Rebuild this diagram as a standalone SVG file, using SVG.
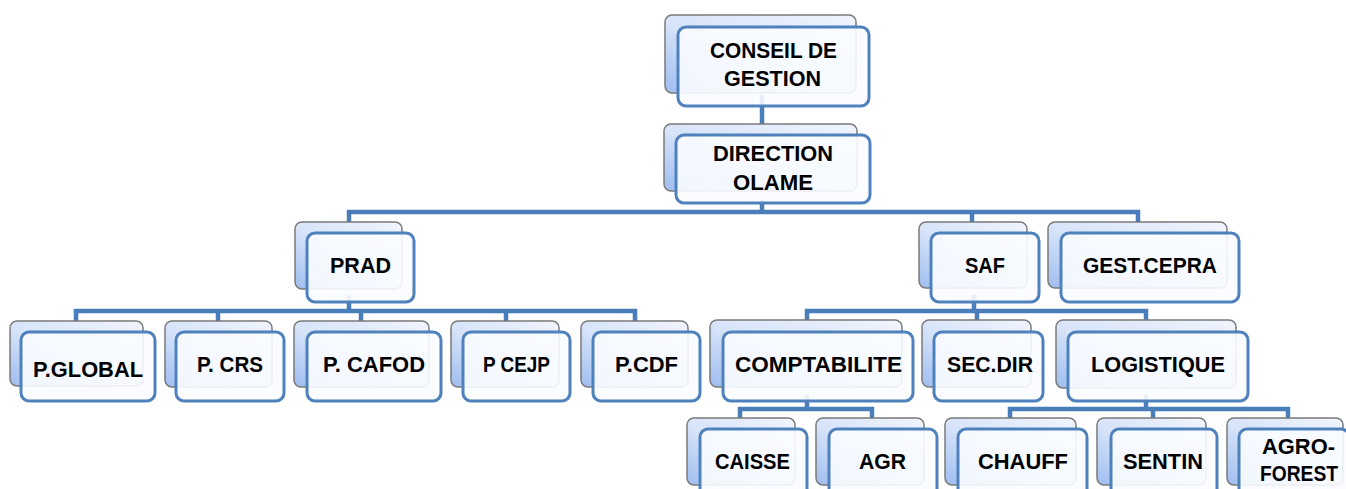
<svg xmlns="http://www.w3.org/2000/svg" width="1346" height="489" viewBox="0 0 1346 489">
<defs>
<linearGradient id="bg" x1="1" y1="0" x2="0" y2="1">
<stop offset="0" stop-color="#f1f5fd"/>
<stop offset="0.55" stop-color="#d6e3f9"/>
<stop offset="1" stop-color="#9ebdf0"/>
</linearGradient>
<style>
.back{fill:url(#bg);stroke:#7a7a7a;stroke-width:1.5}
.front{fill:#fafcff;fill-opacity:0.9;stroke:#4f81bd;stroke-width:3}
.c{fill:none;stroke:#4a7ebb;stroke-width:4.5;stroke-linejoin:miter}
.t{font-family:"Liberation Sans",Arial,sans-serif;font-weight:bold;font-size:22px;fill:#000;text-anchor:middle}
</style>
</defs>
<rect width="1346" height="489" fill="#ffffff"/>
<g id="connectors">
<path class="c" d="M762,95 V135"/>
<path class="c" d="M762,200 V212 M349,222 V212 H1138 V222 M972,212 V222"/>
<path class="c" d="M349,295 V311 M76,321 V311 H635 V321 M218,311 V321 M361,311 V321 M506,311 V321"/>
<path class="c" d="M974,295 V311 M807,320 V311 H1146 V320 M977,311 V320"/>
<path class="c" d="M807,395 V409 M740,418 V409 H872 V418"/>
<path class="c" d="M1146,395 V409 M1010,418 V409 H1288 V418 M1153,409 V418"/>
</g>
<g id="conseil">
<rect class="back" x="665" y="15" width="191" height="78" rx="7"/>
<rect class="front" x="678" y="27" width="191" height="79" rx="8"/>
<text class="t" x="773.5" y="58" textLength="127" lengthAdjust="spacingAndGlyphs">CONSEIL DE</text>
<text class="t" x="772.5" y="86" textLength="97" lengthAdjust="spacingAndGlyphs">GESTION</text>
</g>
<g id="direction">
<rect class="back" x="664" y="124" width="193" height="67" rx="7"/>
<rect class="front" x="676" y="135" width="194" height="68" rx="8"/>
<text class="t" x="773" y="161" textLength="120" lengthAdjust="spacingAndGlyphs">DIRECTION</text>
<text class="t" x="773" y="190" textLength="80" lengthAdjust="spacingAndGlyphs">OLAME</text>
</g>
<g id="prad">
<rect class="back" x="295" y="222" width="107" height="67" rx="7"/>
<rect class="front" x="307" y="233" width="107" height="69" rx="8"/>
<text class="t" x="360.5" y="273" textLength="61" lengthAdjust="spacingAndGlyphs">PRAD</text>
</g>
<g id="saf">
<rect class="back" x="919" y="222" width="108" height="66" rx="7"/>
<rect class="front" x="931" y="233" width="108" height="69" rx="8"/>
<text class="t" x="985" y="273" textLength="40" lengthAdjust="spacingAndGlyphs">SAF</text>
</g>
<g id="gestcepra">
<rect class="back" x="1048" y="222" width="179" height="66" rx="7"/>
<rect class="front" x="1061" y="233" width="178" height="69" rx="8"/>
<text class="t" x="1150" y="273" textLength="134" lengthAdjust="spacingAndGlyphs">GEST.CEPRA</text>
</g>
<g id="pglobal">
<rect class="back" x="10" y="321" width="133" height="65" rx="7"/>
<rect class="front" x="21" y="332" width="134" height="69" rx="8"/>
<text class="t" x="88" y="377" textLength="110" lengthAdjust="spacingAndGlyphs">P.GLOBAL</text>
</g>
<g id="pcrs">
<rect class="back" x="165" y="321" width="107" height="66" rx="7"/>
<rect class="front" x="176" y="332" width="108" height="69" rx="8"/>
<text class="t" x="230" y="372" textLength="66" lengthAdjust="spacingAndGlyphs">P. CRS</text>
</g>
<g id="pcafod">
<rect class="back" x="294" y="321" width="135" height="66" rx="7"/>
<rect class="front" x="307" y="332" width="134" height="69" rx="8"/>
<text class="t" x="374" y="372" textLength="102" lengthAdjust="spacingAndGlyphs">P. CAFOD</text>
</g>
<g id="pcejp">
<rect class="back" x="451" y="321" width="108" height="66" rx="7"/>
<rect class="front" x="463" y="332" width="107" height="69" rx="8"/>
<text class="t" x="516.5" y="372" textLength="67" lengthAdjust="spacingAndGlyphs">P CEJP</text>
</g>
<g id="pcdf">
<rect class="back" x="581" y="321" width="107" height="66" rx="7"/>
<rect class="front" x="593" y="332" width="107" height="69" rx="8"/>
<text class="t" x="646.5" y="372" textLength="63" lengthAdjust="spacingAndGlyphs">P.CDF</text>
</g>
<g id="comptabilite">
<rect class="back" x="710" y="320" width="192" height="67" rx="7"/>
<rect class="front" x="723" y="332" width="190" height="69" rx="8"/>
<text class="t" x="818.5" y="372" textLength="167" lengthAdjust="spacingAndGlyphs">COMPTABILITE</text>
</g>
<g id="secdir">
<rect class="back" x="922" y="320" width="109" height="67" rx="7"/>
<rect class="front" x="934" y="332" width="109" height="69" rx="8"/>
<text class="t" x="990" y="372" textLength="86" lengthAdjust="spacingAndGlyphs">SEC.DIR</text>
</g>
<g id="logistique">
<rect class="back" x="1056" y="320" width="180" height="68" rx="7"/>
<rect class="front" x="1068" y="332" width="180" height="69" rx="8"/>
<text class="t" x="1158" y="372" textLength="134" lengthAdjust="spacingAndGlyphs">LOGISTIQUE</text>
</g>
<g id="caisse">
<rect class="back" x="687" y="418" width="108" height="67" rx="7"/>
<rect class="front" x="700" y="429" width="107" height="69" rx="8"/>
<text class="t" x="752.5" y="469" textLength="75" lengthAdjust="spacingAndGlyphs">CAISSE</text>
</g>
<g id="agr">
<rect class="back" x="816" y="418" width="108" height="67" rx="7"/>
<rect class="front" x="829" y="429" width="108" height="69" rx="8"/>
<text class="t" x="882.5" y="469" textLength="47" lengthAdjust="spacingAndGlyphs">AGR</text>
</g>
<g id="chauff">
<rect class="back" x="945" y="418" width="131" height="67" rx="7"/>
<rect class="front" x="958" y="429" width="129" height="69" rx="8"/>
<text class="t" x="1023" y="469" textLength="90" lengthAdjust="spacingAndGlyphs">CHAUFF</text>
</g>
<g id="sentin">
<rect class="back" x="1097" y="418" width="109" height="67" rx="7"/>
<rect class="front" x="1111" y="429" width="106" height="69" rx="8"/>
<text class="t" x="1163" y="469" textLength="80" lengthAdjust="spacingAndGlyphs">SENTIN</text>
</g>
<g id="agroforest">
<rect class="back" x="1227" y="418" width="116" height="67" rx="7"/>
<rect class="front" x="1239" y="429" width="110" height="69" rx="8"/>
<text class="t" x="1298.5" y="454" textLength="73" lengthAdjust="spacingAndGlyphs">AGRO-</text>
<text class="t" x="1299" y="481" textLength="78" lengthAdjust="spacingAndGlyphs">FOREST</text>
</g>
</svg>
